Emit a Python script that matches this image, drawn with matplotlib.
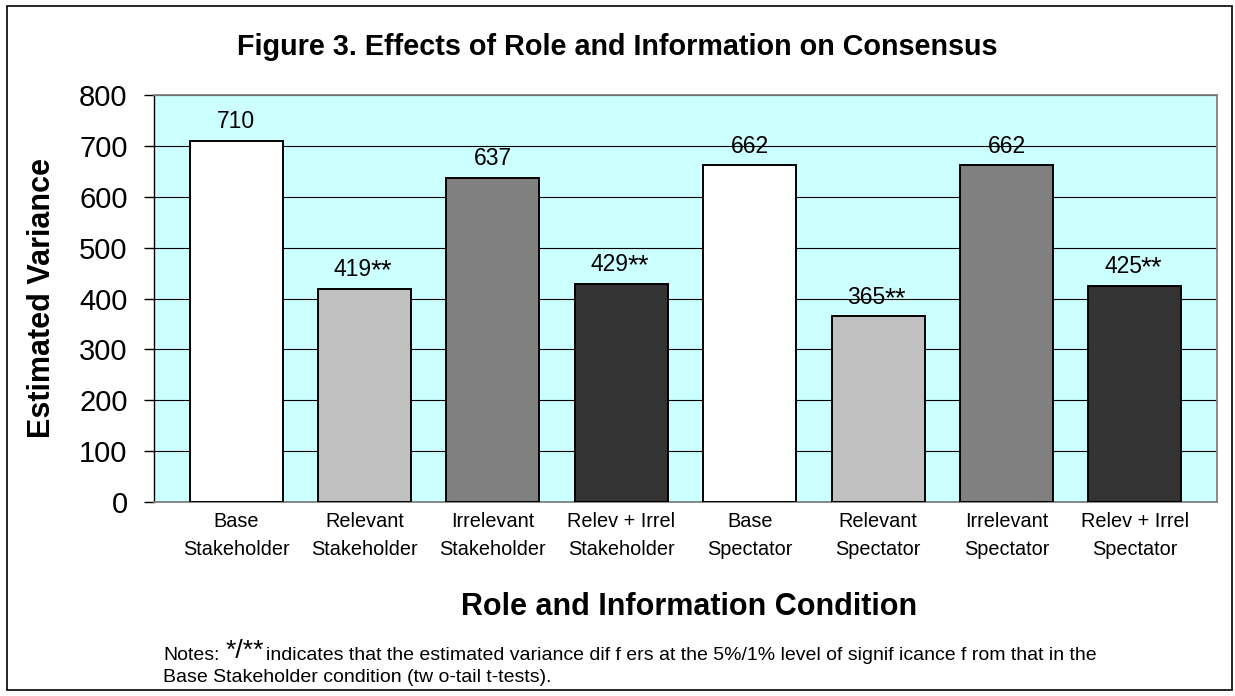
import matplotlib
matplotlib.use("Agg")
import matplotlib.pyplot as plt
from matplotlib.patches import Rectangle

plt.rcParams['font.family'] = ['Liberation Sans', 'DejaVu Sans']

# 数据
categories = ['Base\nStakeholder', 'Relevant\nStakeholder', 'Irrelevant\nStakeholder',
              'Relev + Irrel\nStakeholder', 'Base\nSpectator', 'Relevant\nSpectator',
              'Irrelevant\nSpectator', 'Relev + Irrel\nSpectator']
values = [710, 419, 637, 429, 662, 365, 662, 425]
marks = ['', '**', '', '**', '', '**', '', '**']
bar_colors = ['#FFFFFF', '#C0C0C0', '#808080', '#333333',
              '#FFFFFF', '#C0C0C0', '#808080', '#333333']
y_ticks = [0, 100, 200, 300, 400, 500, 600, 700, 800]

fig = plt.figure(figsize=(12.35, 6.96), dpi=100)
ax = fig.add_axes([154 / 1235, 1 - 502 / 696, (1217 - 154) / 1235, (502 - 95) / 696])

# 外框
fig.patches.append(Rectangle((7 / 1235, 1 - 690 / 696), (1232 - 7) / 1235, (690 - 6) / 696,
                             transform=fig.transFigure, fill=False, edgecolor='black',
                             linewidth=1.2, zorder=0))

ax.set_facecolor('#CCFFFF')
x = list(range(len(values)))
ax.bar(x, values, width=0.725, color=bar_colors, edgecolor='black', linewidth=1.4, zorder=3)

for xi, v, m in zip(x, values, marks):
    if m:
        ax.annotate(f'{v}', (xi, v), xytext=(5.4, 9), textcoords='offset points',
                    ha='right', va='baseline', fontsize=16.5, zorder=4)
        ax.annotate(m, (xi, v), xytext=(4.4, 7.3), textcoords='offset points',
                    ha='left', va='baseline', fontsize=20, zorder=4)
    else:
        ax.annotate(f'{v}', (xi, v), xytext=(0, 9), textcoords='offset points',
                    ha='center', va='baseline', fontsize=16.5, zorder=4)

ax.set_xlim(-0.64, 7.64)
ax.set_ylim(0, 800)
ax.set_yticks(y_ticks)
ax.tick_params(axis='y', labelsize=21, length=7, width=1, direction='out', pad=12)
ax.set_xticks(x)
ax.set_xticklabels(categories, fontsize=14.3, linespacing=1.55)
ax.tick_params(axis='x', length=0, pad=7.5)
ax.yaxis.grid(True, color='black', linewidth=0.8, zorder=1)
ax.set_axisbelow(True)

for side in ['top', 'right', 'bottom']:
    ax.spines[side].set_color('#808080')
    ax.spines[side].set_linewidth(1.3)
ax.spines['left'].set_color('black')
ax.spines['left'].set_linewidth(1.0)

fig.text(0.5, 1 - 47 / 696, 'Figure 3. Effects of Role and Information on Consensus',
         ha='center', va='center', fontsize=20.7, fontweight='bold')
fig.text(42 / 1235, 1 - 298 / 696, 'Estimated Variance', rotation=90,
         ha='center', va='center', fontsize=22, fontweight='bold')
fig.text(689 / 1235, 1 - 607 / 696, 'Role and Information Condition',
         ha='center', va='center', fontsize=22, fontweight='bold')

# 注释
fig.text(163 / 1235, 1 - 655 / 696, 'Notes:', ha='left', va='center', fontsize=14)
fig.text(226 / 1235, 1 - 651 / 696, '*/**', ha='left', va='center', fontsize=19)
fig.text(266 / 1235, 1 - 655 / 696,
         'indicates that the estimated variance dif f ers at the 5%/1% level of signif icance f rom that in the',
         ha='left', va='center', fontsize=14)
fig.text(163 / 1235, 1 - 678 / 696, 'Base Stakeholder condition (tw o-tail t-tests).',
         ha='left', va='center', fontsize=14)

fig.savefig('out.png', dpi=100)
